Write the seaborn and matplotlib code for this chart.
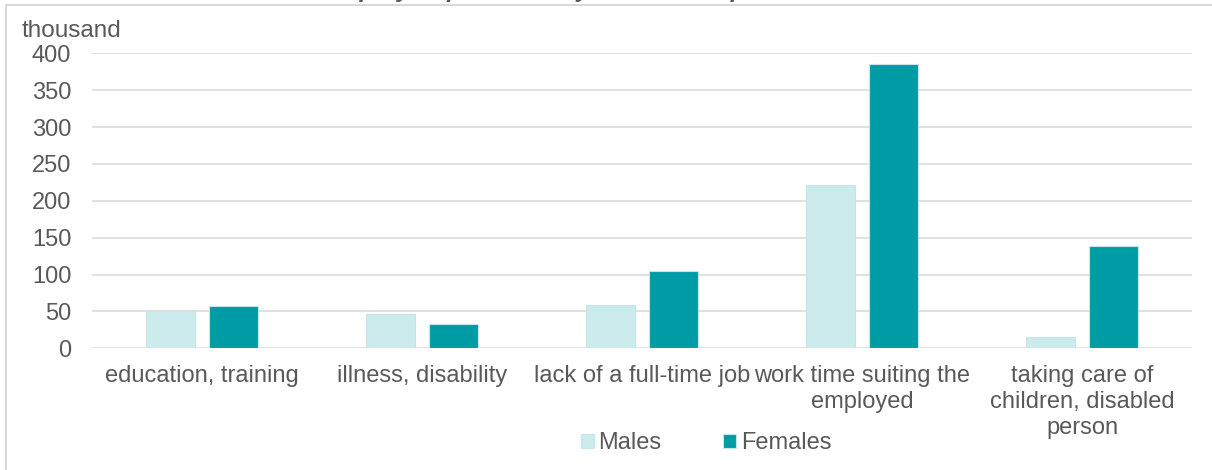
import seaborn as sns
import pandas as pd
import matplotlib.pyplot as plt
from matplotlib.patches import Rectangle

# values (thousand persons)
reasons = ["education, training", "illness, disability", "lack of a full-time job",
           "work time suiting the\nemployed", "taking care of\nchildren, disabled\nperson"]
males = [50, 46, 59, 222, 15]
females = [58, 33, 105, 386, 139]
yticks = [0, 50, 100, 150, 200, 250, 300, 350, 400]

df = pd.DataFrame({"reason": reasons * 2,
                   "value": males + females,
                   "sex": ["Males"] * 5 + ["Females"] * 5})

sns.set_style("white")
plt.rcParams["font.family"] = ["Liberation Sans", "DejaVu Sans"]
grey = "#595959"

fig = plt.figure(figsize=(12.12, 4.70), dpi=100)
ax = fig.add_axes([92 / 1212, 1 - 348.3 / 470, 1100 / 1212, 295 / 470])

sns.barplot(data=df, x="reason", y="value", hue="sex", order=reasons,
            palette={"Males": "#CCEBEC", "Females": "#009CA6"}, saturation=1,
            width=0.572, gap=0.21, edgecolor="#C4E6E8", linewidth=0.8,
            ax=ax, zorder=3)

ax.set_ylim(0, 400)
ax.set_yticks(yticks)
ax.set_xlim(-0.5, 4.5)
ax.yaxis.grid(True, color="#D9D9D9", linewidth=1.1, zorder=0)
ax.set_axisbelow(True)
for s in ax.spines.values():
    s.set_visible(False)
ax.tick_params(axis="y", length=0, pad=15, labelsize=17, labelcolor=grey)
ax.tick_params(axis="x", length=0, pad=12, labelsize=17, labelcolor=grey)
for lab in ax.get_xticklabels():
    lab.set_linespacing(1.23)
ax.set_xlabel("")
ax.set_ylabel("")

fig.text(22 / 1212, 1 - 37 / 470, "thousand", fontsize=17.5, color=grey, va="baseline")

# outer chart border (cut off on the right and bottom)
fig.patches.append(Rectangle((6 / 1212, -0.2), 1.2, 1.2 - 5 / 470, transform=fig.transFigure,
                             fill=False, edgecolor="#D9D9D9", linewidth=1.5))

# title, mostly cropped off the top of the image
fig.text(0.5 - 45 / 1212, 1 + 3 / 470, "Persons employed part-time by reasons of part-time work",
         fontsize=18, fontweight="bold", fontstyle="italic", color=grey,
         ha="center", va="baseline")

h, l = ax.get_legend_handles_labels()
ax.legend(h, l, loc="center", bbox_to_anchor=(706 / 1212, 1 - 443 / 470),
          bbox_transform=fig.transFigure, ncol=2, frameon=False, fontsize=17,
          labelcolor=grey, handlelength=0.55, handleheight=0.55,
          handletextpad=0.2, columnspacing=2.6)

fig.savefig("out.png", dpi=100)
